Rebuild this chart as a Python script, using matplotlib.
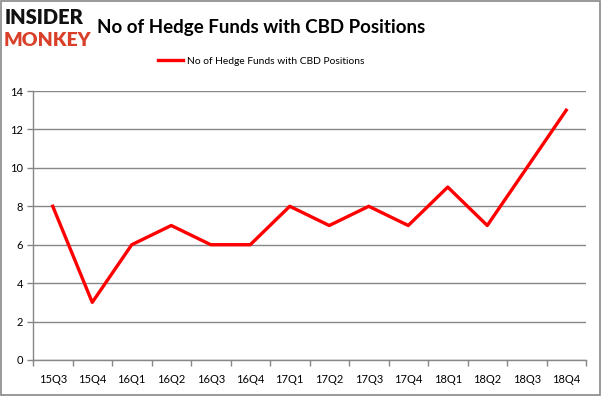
import matplotlib
matplotlib.use("Agg")
import matplotlib.pyplot as plt
from matplotlib.patches import Rectangle

quarters = ['15Q3', '15Q4', '16Q1', '16Q2', '16Q3', '16Q4', '17Q1',
            '17Q2', '17Q3', '17Q4', '18Q1', '18Q2', '18Q3', '18Q4']
funds = [8, 3, 6, 7, 6, 6, 8, 7, 8, 7, 9, 7, 10, 13]
y_ticks = [0, 2, 4, 6, 8, 10, 12, 14]

plt.rcParams['font.family'] = ['Lato', 'DejaVu Sans']

fig = plt.figure(figsize=(6.01, 3.96), dpi=100)
ax = fig.add_axes([33 / 601, 36 / 396, 553 / 601, 269 / 396])

x = list(range(len(quarters)))
ax.plot(x, funds, color='#ff0000', lw=2.4, solid_joinstyle='round',
        label='No of Hedge Funds with CBD Positions')

ax.set_xlim(-0.5, len(quarters) - 0.5)
ax.set_ylim(0, 14)
ax.set_yticks(y_ticks)
ax.set_xticks(x)
ax.set_xticklabels(quarters, fontsize=8)
ax.set_xticks([i - 0.5 for i in range(len(quarters) + 1)], minor=True)
ax.tick_params(axis='x', which='major', length=0, pad=10)
ax.tick_params(axis='x', which='minor', length=4, color='#878787', width=1)
ax.tick_params(axis='y', length=4, color='#878787', width=1, labelsize=8, pad=3)
ax.grid(axis='y', color='#878787', lw=1)
ax.set_axisbelow(True)
for s in ['top', 'right']:
    ax.spines[s].set_visible(False)
for s in ['left', 'bottom']:
    ax.spines[s].set_color('#878787')
    ax.spines[s].set_linewidth(1)

fig.legend(loc='center', bbox_to_anchor=(0.435, 1 - 61 / 396), frameon=False,
           fontsize=7.4, handlelength=2.4, handletextpad=0.4)

fig.text(97 / 601, 1 - 27 / 396, 'No of Hedge Funds with CBD Positions',
         fontsize=13.5, fontweight='bold', va='center', ha='left')
fig.text(5 / 601, 1 - 18 / 396, 'INSIDER', fontsize=14.5, fontweight='heavy',
         va='center', ha='left', color='#111111')
fig.text(4 / 601, 1 - 40 / 396, 'MONKEY', fontsize=14, fontweight='heavy',
         va='center', ha='left', color='#d9402a')

fig.patches.append(Rectangle((0.001, 0.002), 0.997, 0.995, transform=fig.transFigure,
                             fill=False, edgecolor='#878787', lw=1.2))

fig.savefig('out.png', dpi=100)
